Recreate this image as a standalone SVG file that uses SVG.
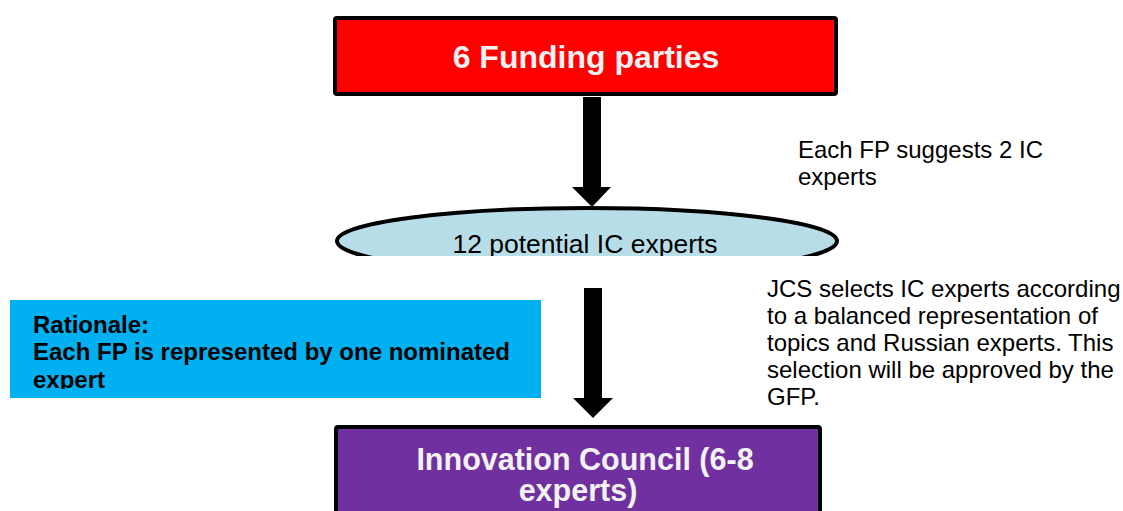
<svg xmlns="http://www.w3.org/2000/svg" width="1123" height="511" viewBox="0 0 1123 511">
<style>
.box{stroke:#000;stroke-width:4}
.wt{font-family:"Liberation Sans",Arial,sans-serif;font-weight:bold;fill:#f2f2f2;text-anchor:middle}
.t{font-family:"Liberation Sans",Arial,sans-serif;font-size:24px;fill:#000}
.b{font-weight:bold}
.big{font-size:26.5px;text-anchor:middle}
.arrow{fill:#000}
</style>
<defs>
<clipPath id="ellClip"><rect x="300" y="190" width="600" height="66"/></clipPath>
<clipPath id="ratClip"><rect x="10" y="300" width="531" height="89"/></clipPath>
</defs>
<rect width="1123" height="511" fill="#fff"/>
<g id="connectors">
<polygon class="arrow" points="583,97 601,97 601,187 611,187 592,207 572,187 583,187"/>
<polygon class="arrow" points="584,288 602,288 602,398 613,398 593,418 573,398 584,398"/>
</g>
<g id="funding-parties">
<rect class="box" x="335" y="18" width="501" height="76" rx="2" fill="#ff0000"/>
<text class="wt" x="586" y="68" font-size="32">6 Funding parties</text>
</g>
<g id="potential-experts" clip-path="url(#ellClip)">
<ellipse cx="587" cy="241" rx="250" ry="33" fill="#b7dde8" stroke="#000" stroke-width="4"/>
<text class="t big" x="585" y="253">12 potential IC experts</text>
</g>
<g id="innovation-council">
<rect class="box" x="336" y="427" width="484" height="100" rx="2" fill="#7030a0"/>
<text class="wt" x="585" y="470" font-size="30.5">Innovation Council (6-8</text>
<text class="wt" x="578" y="501" font-size="30.5">experts)</text>
</g>
<g id="rationale">
<rect x="10" y="300" width="531" height="98" fill="#00b0f0"/>
<g clip-path="url(#ratClip)">
<text class="t b" x="33" y="333">Rationale:</text>
<text class="t b" x="33" y="360">Each FP is represented by one nominated</text>
<text class="t b" x="33" y="388">expert</text>
</g>
</g>
<g id="label-suggests">
<text class="t" x="798" y="158">Each FP suggests 2 IC</text>
<text class="t" x="798" y="185">experts</text>
</g>
<g id="label-selects">
<text class="t" x="767" y="297">JCS selects IC experts according</text>
<text class="t" x="767" y="324">to a balanced representation of</text>
<text class="t" x="767" y="351">topics and Russian experts. This</text>
<text class="t" x="767" y="378">selection will be approved by the</text>
<text class="t" x="767" y="405">GFP.</text>
</g>
</svg>
